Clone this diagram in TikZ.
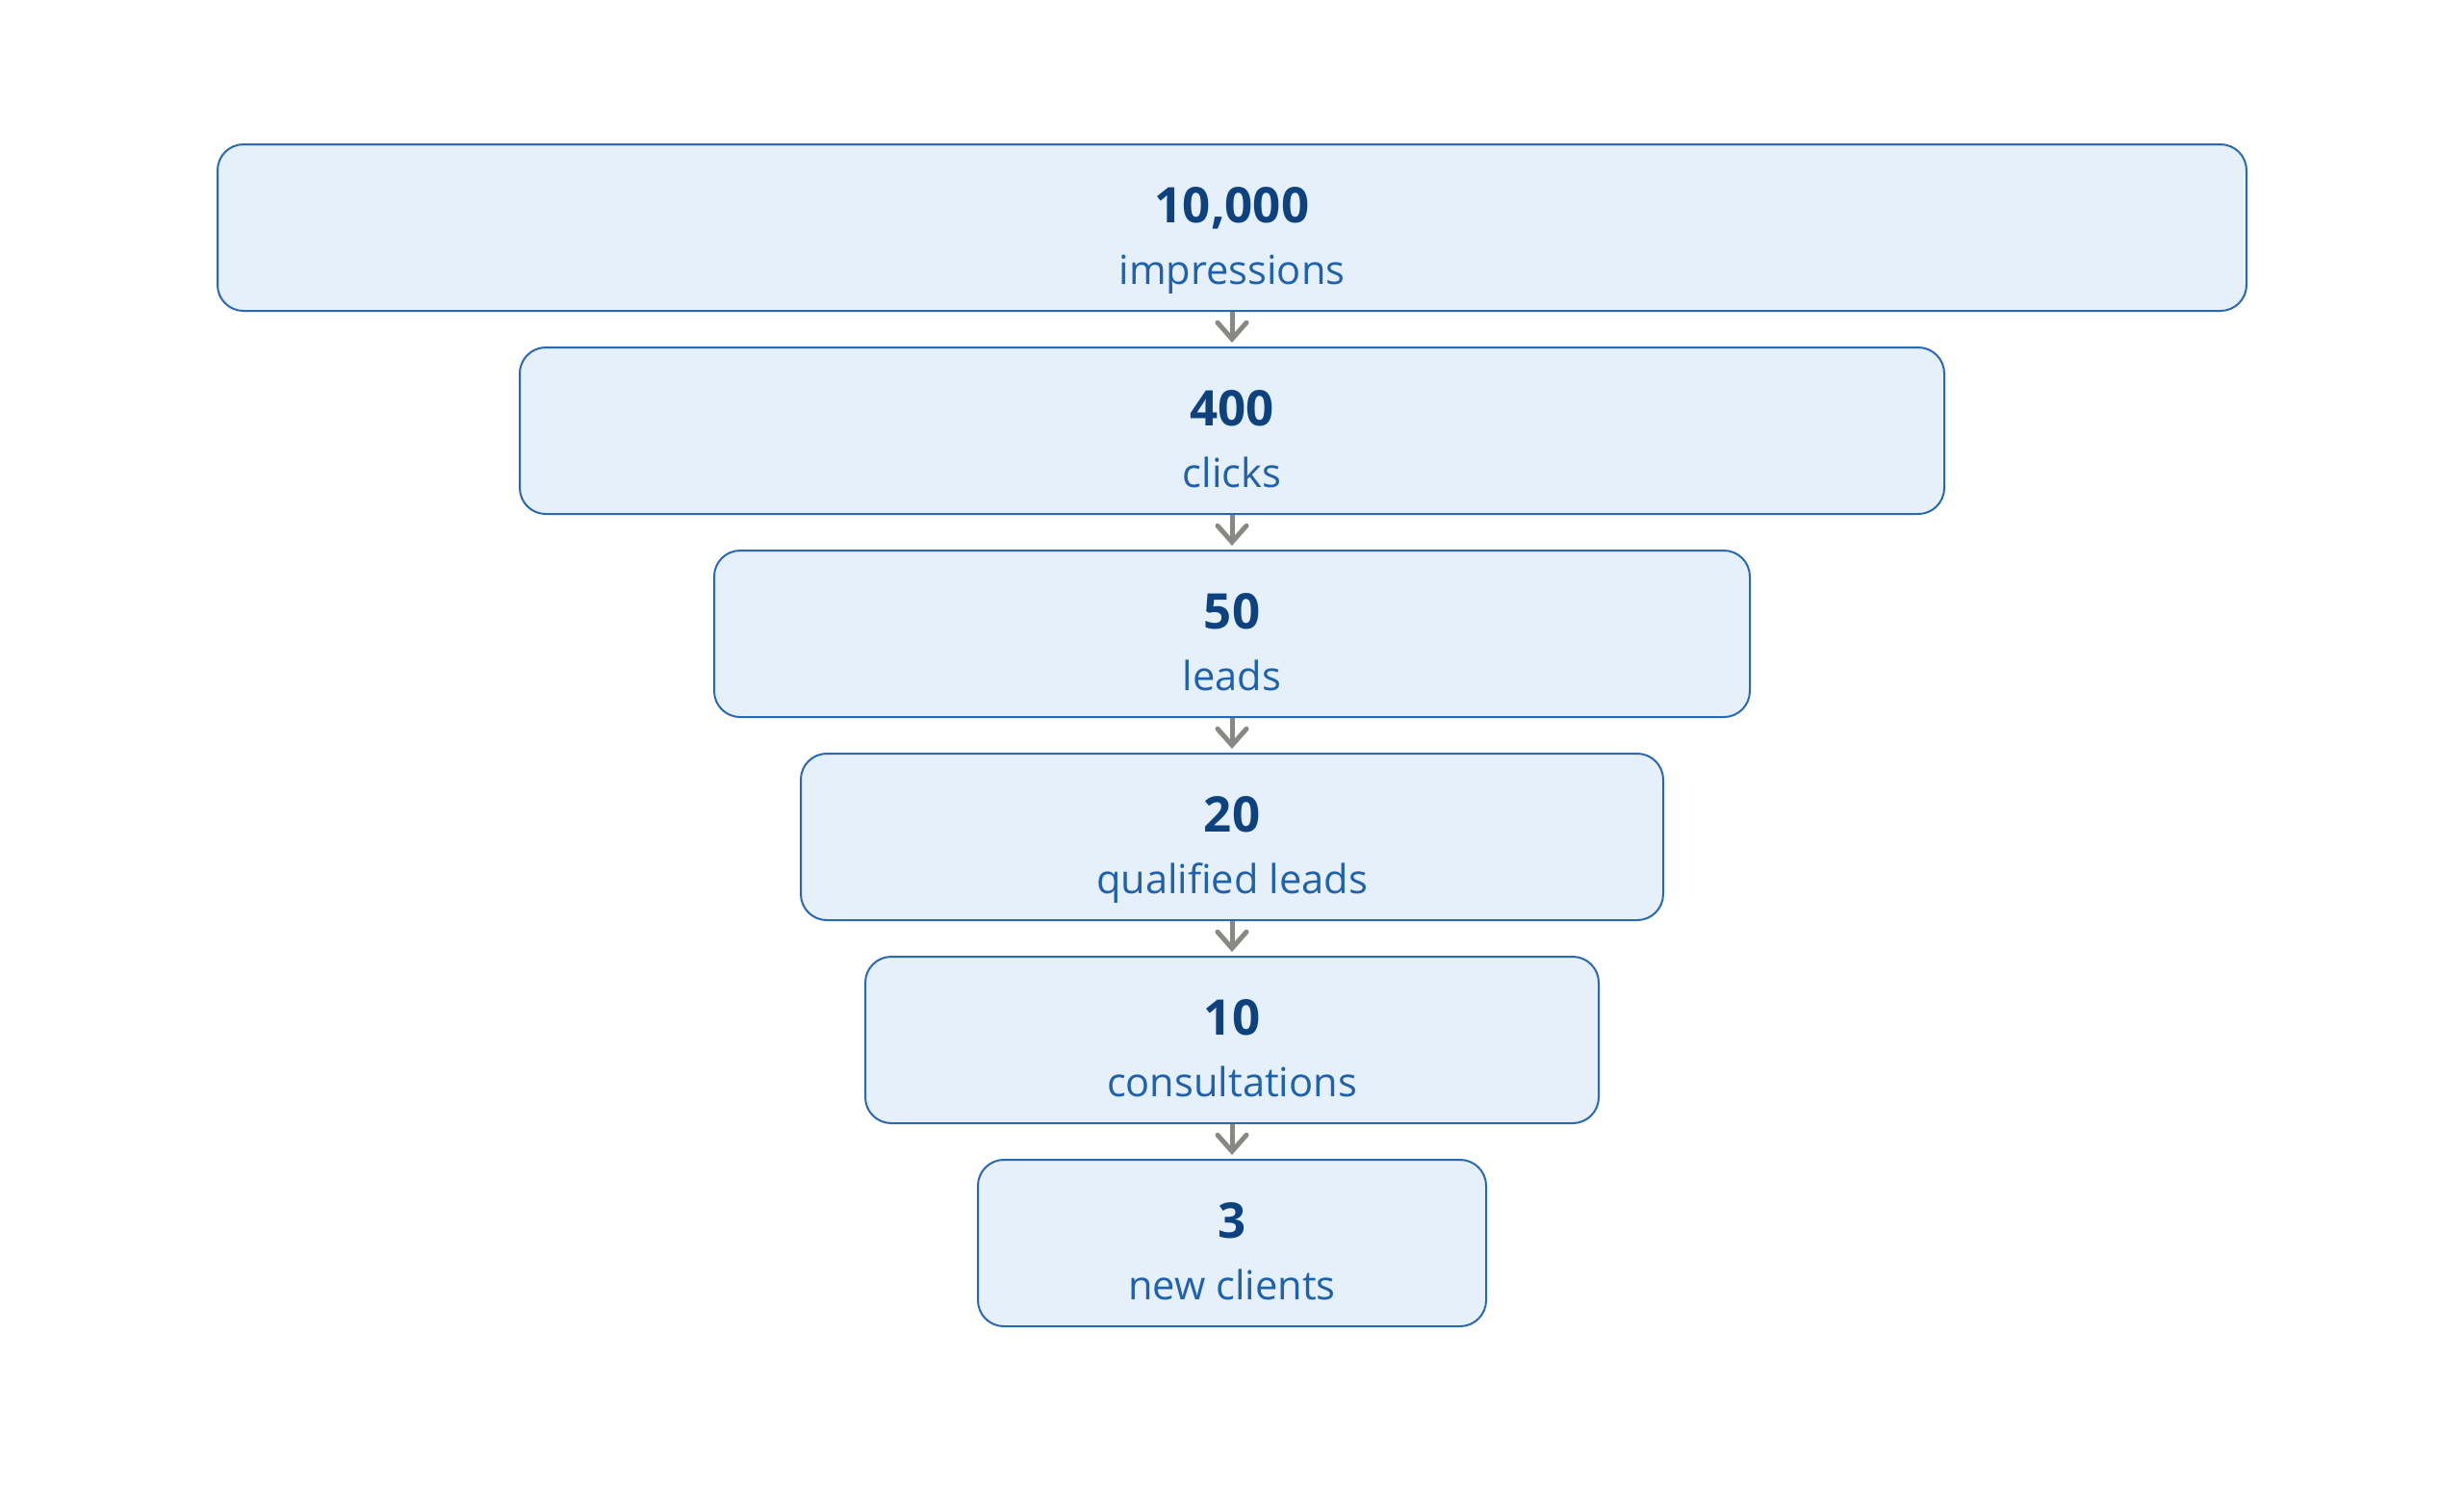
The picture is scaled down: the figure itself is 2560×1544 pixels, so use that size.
\documentclass[tikz,border=0pt]{standalone}
\usepackage{fontspec}
\setmainfont{Open Sans}
\usetikzlibrary{arrows.meta}
\definecolor{boxfill}{HTML}{E6F0FB}
\definecolor{boxline}{HTML}{2A68B0}
\definecolor{numcol}{HTML}{0D427E}
\definecolor{labcol}{HTML}{1F62AB}
\definecolor{arrcol}{HTML}{888884}
\tikzset{
  stage/.style={draw=boxline, fill=boxfill, line width=1pt, rounded corners=13.5pt,
    minimum height=86.5pt, inner sep=0pt},
  num/.style={anchor=base, text=numcol, font=\fontsize{25.5}{30}\selectfont\bfseries, inner sep=0pt},
  lab/.style={anchor=base, text=labcol, font=\fontsize{20.8}{25}\selectfont, inner sep=0pt},
  flow/.style={draw=arrcol, line width=2.5pt, -{Straight Barb[length=8.5pt,width=15pt,line cap=round]}, shorten >=2pt}
}
\begin{document}
\begin{tikzpicture}[x=0.5pt,y=-0.5pt]
\useasboundingbox (0,0) rectangle (2560,1544);
\node[stage, minimum width=1054pt] (b1) at (1280,236.5) {};
\node[stage, minimum width=740pt]  (b2) at (1280,447.5) {};
\node[stage, minimum width=538pt]  (b3) at (1280,658.5) {};
\node[stage, minimum width=448pt]  (b4) at (1280,869.5) {};
\node[stage, minimum width=381pt]  (b5) at (1280,1080.5) {};
\node[stage, minimum width=264pt]  (b6) at (1280,1291.5) {};
\foreach \i/\n/\l in {1/{10,000}/impressions, 2/400/clicks, 3/50/leads, 4/20/qualified leads, 5/10/consultations, 6/3/new clients}{
  \node[num] (n\i) at ([yshift=2.5pt]b\i.center) {\n};
  \node[lab] (l\i) at ([yshift=-29.5pt]b\i.center) {\l};
}
\foreach \a/\b in {b1/b2, b2/b3, b3/b4, b4/b5, b5/b6}{
  \draw[flow] (\a.south) -- (\b.north);
}
\end{tikzpicture}
\end{document}
